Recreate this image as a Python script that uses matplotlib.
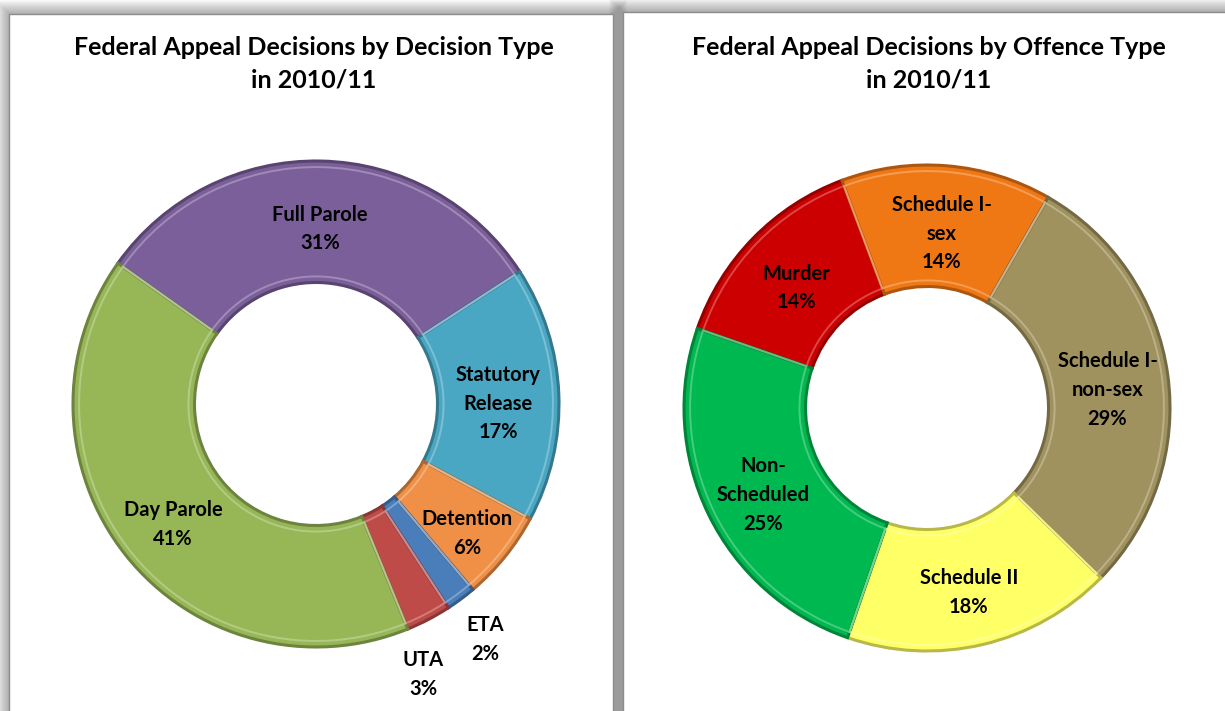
import numpy as np
import matplotlib
matplotlib.use('Agg')
import matplotlib.pyplot as plt
from matplotlib.patches import Rectangle

plt.rcParams['font.family'] = ['Lato', 'DejaVu Sans']

# ── data ──
decision_labels = ['Full Parole', 'Statutory\nRelease', 'Detention', 'ETA', 'UTA', 'Day Parole']
decision_pct    = [31, 17, 6, 2, 3, 41]
decision_colors = ['#7B5F9A', '#4AA7C3', '#EF9046', '#4A7EBB', '#BE4B48', '#97B756']

offence_labels = ['Murder', 'Schedule I-\nsex', 'Schedule I-\nnon-sex', 'Schedule II', 'Non-\nScheduled']
offence_pct    = [14, 14, 29, 18, 25]
offence_colors = ['#CC0000', '#F07814', '#A0925E', '#FFFF66', '#00B850']

W, H = 1225, 711
fig = plt.figure(figsize=(W / 100, H / 100), dpi=100, facecolor='white')

# ── background panels with soft shadow ──
bg = fig.add_axes([0, 0, 1, 1])
bg.set_xlim(0, W)
bg.set_ylim(H, 0)
bg.axis('off')

panels = [(9, 14, 604, 720), (623, 12, 620, 720)]
for (x0, y0, pw, ph) in panels:
    for k in range(14, 0, -1):
        bg.add_patch(Rectangle((x0 - k, y0 - k), pw + 2 * k, ph + 2 * k,
                               facecolor='black', edgecolor='none', alpha=0.024))
for (x0, y0, pw, ph) in panels:
    bg.add_patch(Rectangle((x0, y0), pw, ph, facecolor='white',
                           edgecolor='#8c8c8c', linewidth=1.0))


def darker(c, f=0.72):
    rgb = np.array(matplotlib.colors.to_rgb(c))
    return tuple(rgb * f)


def lighter(c, f=0.35):
    rgb = np.array(matplotlib.colors.to_rgb(c))
    return tuple(rgb + (1 - rgb) * f)


def donut(cx, cy, r, pct, colors, labels, start, label_r, label_shift):
    ax = fig.add_axes([(cx - r) / W, (H - cy - r) / H, 2 * r / W, 2 * r / H])
    wedges, _ = ax.pie(pct, colors=colors, startangle=start, counterclock=False,
                       radius=1.0, wedgeprops=dict(width=0.5, linewidth=2.2))
    for w, c in zip(wedges, colors):
        w.set_edgecolor(darker(c))
    # light bevel highlight just inside each wedge
    ax.pie(pct, colors=['none'] * len(pct), startangle=start, counterclock=False,
           radius=0.975, wedgeprops=dict(width=0.45, linewidth=1.4,
                                         edgecolor='none'))
    for w, c in zip(ax.patches[len(pct):], colors):
        w.set_edgecolor(lighter(c))
        w.set_alpha(0.8)
    for w, lab, p, lr, sh in zip(wedges, labels, pct, label_r, label_shift):
        ang = np.deg2rad((w.theta1 + w.theta2) / 2 + sh)
        ax.text(lr * np.cos(ang), lr * np.sin(ang) - 0.03, f'{lab}\n{p}%',
                ha='center', va='center', fontsize=14.5, fontweight='bold',
                color='black', linespacing=1.55)
    ax.set_xlim(-1, 1)
    ax.set_ylim(-1, 1)
    ax.set_aspect('auto')
    ax.axis('off')
    return ax


donut(316, 404, 243, decision_pct, decision_colors, decision_labels, start=144.6,
      label_r=[0.75, 0.75, 0.8, 1.17, 1.17, 0.75],
      label_shift=[0, 0, 0, 0, -5.5, 0])
donut(927, 408, 243, offence_pct, offence_colors, offence_labels, start=160.9,
      label_r=[0.75] * 5, label_shift=[0] * 5)

fig.text(314 / W, 1 - 64 / H, 'Federal Appeal Decisions by Decision Type\nin 2010/11',
         ha='center', va='center', fontsize=18, fontweight='bold', linespacing=1.5)
fig.text(929 / W, 1 - 64 / H, 'Federal Appeal Decisions by Offence Type\nin 2010/11',
         ha='center', va='center', fontsize=18, fontweight='bold', linespacing=1.5)

fig.savefig('out.png', dpi=100, facecolor='white')
